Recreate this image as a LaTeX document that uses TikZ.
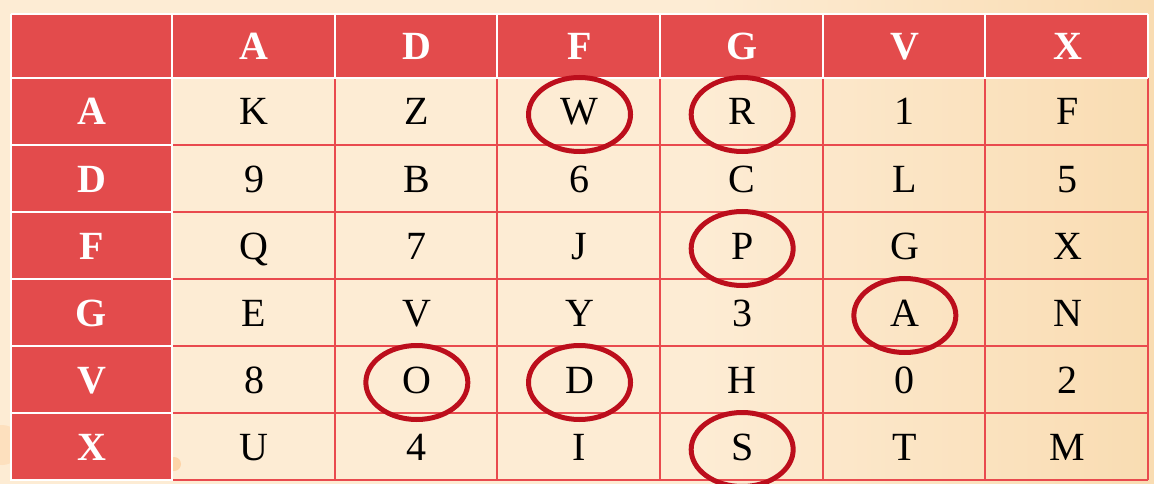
\documentclass[tikz,border=0pt]{standalone}
\usepackage{fontspec}
\setmainfont{Liberation Serif}
\definecolor{bgcream}{RGB}{253,236,212}
\definecolor{bgorange}{RGB}{249,220,178}
\definecolor{headred}{RGB}{227,75,76}
\definecolor{gridred}{RGB}{233,74,78}
\definecolor{ringred}{RGB}{188,14,28}

\begin{document}
\begin{tikzpicture}[x=1pt,y=-1pt,
        head/.style={font=\fontsize{40}{44}\selectfont\bfseries,text=white,text height=27pt,text depth=0pt},
        cell/.style={font=\fontsize{40}{44}\selectfont,text=black,text height=27pt,text depth=0pt},
        ring/.style={draw=ringred,line width=5pt}]
        \useasboundingbox(0,0)rectangle(1154,484);
        % background
        \fill[bgcream](0,0)rectangle(1154,484);
        \shade[left color=bgcream,right color=bgorange](700,0)rectangle(1154,484);
        \fill[orange!50,opacity=0.25](2,445)circle(20);
        \fill[orange!60,opacity=0.4](174,464)circle(7);

        % red header row and column
        \fill[headred](11,14)rectangle(1148,78);
        \fill[headred](11,78)rectangle(172,480);
        \foreach \k in {1,...,5}
            \draw[gridred,line width=2pt](172+162.67*\k,78)--(172+162.67*\k,480);
        \draw[gridred,line width=2pt](1148,78)--(1148,480);
        \foreach \k in {1,...,6}
            \draw[gridred,line width=2pt](172,78+67*\k)--(1148,78+67*\k);
        \foreach \k in {0,...,6}
            \draw[white,line width=2pt](172+162.67*\k,14)--(172+162.67*\k,78);
        \foreach \k in {1,...,5}
            \draw[white,line width=2pt](11,78+67*\k)--(172,78+67*\k);
        \draw[white,line width=2pt](11,14)--(1148,14);
        \draw[white,line width=2pt](11,78)--(1148,78);
        \draw[white,line width=2pt](11,14)--(11,480)--(172,480)--(172,78);

        % column keys
        \foreach \lab [count=\i] in {A,D,F,G,V,X}
            \node[head](h\i)at(91.5+162.67*\i,46){\lab};

        % row keys and letters
        \foreach \lab/\cells [count=\j] in {A/{K,Z,W,R,1,F},D/{9,B,6,C,L,5},F/{Q,7,J,P,G,X},
                G/{E,V,Y,3,A,N},V/{8,O,D,H,0,2},X/{U,4,I,S,T,M}}{
            \node[head](r\j)at(91.5,44.5+67*\j){\lab};
            \foreach \c [count=\i] in \cells
                \node[cell](c\j\i)at(91.5+162.67*\i,44.5+67*\j){\c};
        }

        % rings
        \foreach \p in {13,14,34,45,52,53,64}
            \draw[ring]([yshift=-3pt]c\p.center)ellipse[x radius=51pt,y radius=37pt];
\end{tikzpicture}
\end{document}
